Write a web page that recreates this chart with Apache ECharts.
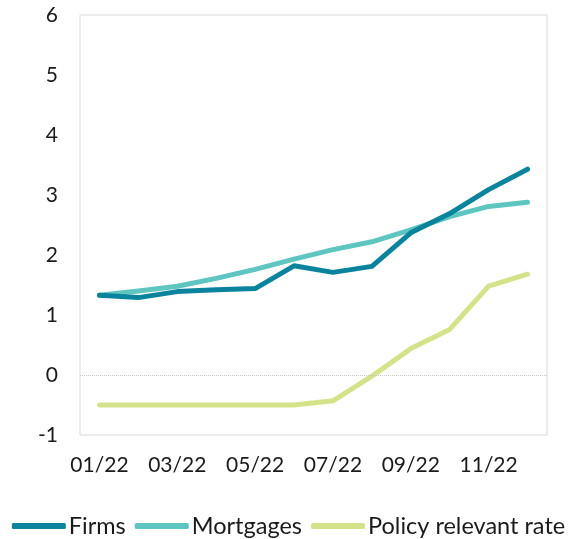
<!DOCTYPE html>
<html>
<head>
<meta charset="utf-8">
<script src="https://cdn.jsdelivr.net/npm/echarts@6/dist/echarts.min.js"></script>
<style>html,body{margin:0;padding:0;background:#fff;}#c{width:577px;height:539px;}</style>
</head>
<body>
<div id="c"></div>
<script>
var months = ['01/22','02/22','03/22','04/22','05/22','06/22','07/22','08/22','09/22','10/22','11/22','12/22'];
var firms = [1.33, 1.29, 1.39, 1.42, 1.44, 1.82, 1.71, 1.81, 2.37, 2.69, 3.09, 3.43];
var mortgages = [1.33, 1.40, 1.48, 1.61, 1.76, 1.93, 2.09, 2.22, 2.42, 2.64, 2.81, 2.88];
var policyRate = [-0.5, -0.5, -0.5, -0.5, -0.5, -0.5, -0.43, -0.02, 0.44, 0.76, 1.48, 1.68];
var yTicks = {min: -1, max: 6, interval: 1};

var font = 'Lato, "Noto Sans", sans-serif';
function lineSeries(name, data, color, extra) {
  var s = {
    name: name, type: 'line', data: data, symbol: 'none',
    lineStyle: {width: 5, color: color, cap: 'round', join: 'round'},
    itemStyle: {color: color}
  };
  if (extra) for (var k in extra) s[k] = extra[k];
  return s;
}
var chart = echarts.init(document.getElementById('c'), null, {renderer: 'canvas'});
chart.setOption({
  animation: false,
  backgroundColor: '#fff',
  grid: {left: 80, right: 30, top: 15, bottom: 104, show: true, borderColor: '#d9d9d9', borderWidth: 1, backgroundColor: 'transparent'},
  legend: {
    top: 514, left: 'center', itemWidth: 54, itemHeight: 6, itemGap: 9,
    icon: 'roundRect', padding: 0,
    textStyle: {fontFamily: font, fontSize: 23.5, color: '#1a1a1a', padding: [0,0,0,-2]},
    data: ['Firms','Mortgages','Policy relevant rate']
  },
  xAxis: {
    type: 'category', data: months, boundaryGap: true,
    axisLine: {show: false}, axisTick: {show: false},
    axisLabel: {interval: 1, fontFamily: font, fontSize: 21, color: '#1a1a1a', margin: 20},
    splitLine: {show: false}
  },
  yAxis: {
    type: 'value', min: yTicks.min, max: yTicks.max, interval: yTicks.interval,
    axisLine: {show: false}, axisTick: {show: false},
    axisLabel: {fontFamily: font, fontSize: 21, color: '#1a1a1a', margin: 22},
    splitLine: {show: false}
  },
  series: [
    lineSeries('Firms', firms, '#0a849c', {z: 4}),
    lineSeries('Mortgages', mortgages, '#5ec5c0', {z: 3,
      markLine: {silent: true, symbol: 'none', label: {show: false},
        lineStyle: {color: '#c8c8c8', type: 'dotted', width: 1},
        data: [{yAxis: 0}]}}),
    lineSeries('Policy relevant rate', policyRate, '#d4e38a', {z: 2})
  ]
});
</script>
</body>
</html>
